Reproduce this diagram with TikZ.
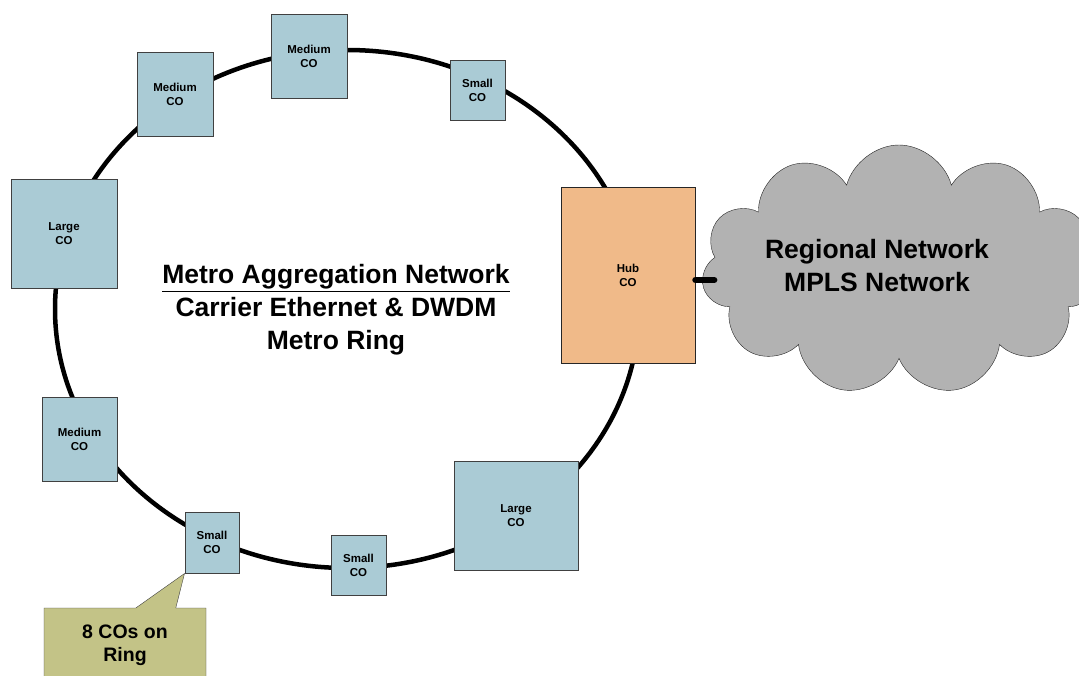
\documentclass[tikz,border=0pt]{standalone}
\usepackage{fontspec}
\setmainfont{Liberation Sans}
\usepackage{tikz}
\usetikzlibrary{calc, shapes.symbols, shapes.callouts}
\definecolor{coblue}{RGB}{170,203,213}
\definecolor{hubtan}{RGB}{240,186,137}
\definecolor{cloudgray}{RGB}{178,178,178}
\definecolor{noteolive}{RGB}{195,195,135}
\tikzstyle{co} = [draw=black!75, fill=coblue, line width=1pt, align=center, inner sep=0pt, font=\fontsize{11.5}{14}\selectfont\bfseries]
\tikzstyle{smallco} = [co, minimum width=55pt, minimum height=60pt]
\tikzstyle{mediumco} = [co, minimum width=76pt, minimum height=84pt]
\tikzstyle{largeco} = [co, minimum height=109pt]
\tikzstyle{ring} = [line width=4.5pt]
\tikzstyle{bigtext} = [align=center, font=\fontsize{26.5}{33}\selectfont\bfseries]

\begin{document}
\begin{tikzpicture}[x=1pt, y=-1pt]
    \useasboundingbox (0,0) rectangle (1079,675);
    % ring first, the COs sit on it
    \draw[ring] (347,309) ellipse [x radius=292pt, y radius=259pt];
    \draw (309,56) node[mediumco] (medtop) {Medium\\CO};
    \draw (175,94) node[mediumco] (medleft) {Medium\\CO};
    \draw (477.5,90) node[smallco] (smalltop) {Small\\CO};
    \draw (64,233.5) node[largeco, minimum width=106pt] (largeleft) {Large\\CO};
    \draw (79.5,439) node[mediumco, minimum width=75pt] (medlow) {Medium\\CO};
    \draw (212,542.5) node[smallco, minimum width=54pt, minimum height=61pt] (smallleft) {Small\\CO};
    \draw (358.5,565) node[smallco] (smallbot) {Small\\CO};
    \draw (516,515.5) node[largeco, minimum width=124pt] (largeright) {Large\\CO};
    \draw (628,275) node[co, fill=hubtan, draw=black!85, minimum width=134pt, minimum height=176pt] (hub) {Hub\\CO};
    \draw (336,310) node[bigtext] (title) {\underline{Metro Aggregation Network}\\Carrier Ethernet \& DWDM\\Metro Ring};
    % regional side
    \draw (899,270) node[cloud, cloud puffs=11, draw=black!85, fill=cloudgray, minimum width=395pt, minimum height=250pt] (rn) {};
    \draw (877,266) node[bigtext] (rntext) {Regional Network\\MPLS Network};
    \draw[line width=6.5pt, line cap=round] ([yshift=-5pt]hub.east) -- ($(hub.east -| rn.west)+(10,5)$);
    \draw (125,645) node[rectangle callout, draw=black!75, fill=noteolive, minimum width=162pt, minimum height=74pt, callout absolute pointer={(smallleft.south west)}, callout pointer width=40pt, align=center, font=\fontsize{19.5}{23}\selectfont\bfseries] (note) {8 COs on\\Ring};
\end{tikzpicture}
\end{document}
